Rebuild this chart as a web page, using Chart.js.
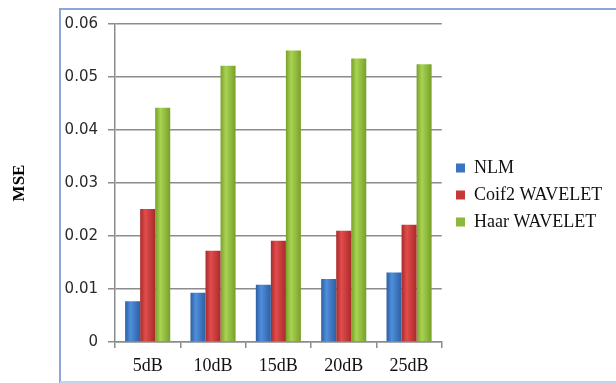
<!DOCTYPE html>
<html>
<head>
<meta charset="utf-8">
<script src="https://cdn.jsdelivr.net/npm/chart.js@4"></script>
<style>
  html, body { margin: 0; padding: 0; background: #fff; }
  #wrap { width: 616px; height: 383px; }
</style>
</head>
<body>
<div id="wrap"><canvas id="chart"></canvas></div>
<script>
const categories = ['5dB', '10dB', '15dB', '20dB', '25dB'];
const nlm = [0.0077, 0.0093, 0.0108, 0.0119, 0.0131];
const coif2 = [0.0251, 0.0172, 0.0191, 0.0210, 0.0221];
const haar = [0.0442, 0.0521, 0.0550, 0.0535, 0.0524];
const yTickLabels = ['0', '0.01', '0.02', '0.03', '0.04', '0.05', '0.06'];

// dark edge / light middle / flat colour for the shaded bars
const shades = [
  ['#2d5fa3', '#4f8fdb', '#3a73bf'],
  ['#a92a2a', '#e24c4c', '#c53838'],
  ['#78a02a', '#a9d352', '#8cb83c']
];

const framePlugin = {
  id: 'frame',
  beforeDraw(chart) {
    const c = chart.ctx;
    c.save();
    c.strokeStyle = '#8aa7d8';
    c.lineWidth = 2;
    c.beginPath();
    c.moveTo(60, 383);
    c.lineTo(60, 9);
    c.lineTo(616, 9);
    c.stroke();
    c.strokeStyle = '#c3d3ec';
    c.beginPath();
    c.moveTo(60, 382);
    c.lineTo(616, 382);
    c.stroke();
    c.restore();
  }
};

const shadePlugin = {
  id: 'shade',
  beforeDatasetsDraw(chart) {
    const c = chart.ctx;
    chart.data.datasets.forEach((ds, i) => {
      chart.getDatasetMeta(i).data.forEach(bar => {
        const g = c.createLinearGradient(bar.x - bar.width / 2, 0, bar.x + bar.width / 2, 0);
        g.addColorStop(0, shades[i][0]);
        g.addColorStop(0.35, shades[i][1]);
        g.addColorStop(1, shades[i][0]);
        // options are shared between bars, give each its own copy
        bar.options = Object.assign({}, bar.options, { backgroundColor: g });
      });
    });
  }
};

const legendShift = {
  id: 'legendShift',
  afterLayout(chart) {
    const l = chart.legend;
    const dy = 195 - (l.top + l.bottom) / 2;
    l.left = 447;
    l.right = 620;
    l.width = l.right - l.left;
    l.top += dy; l.bottom += dy;
  }
};

new Chart(document.getElementById('chart'), {
  type: 'bar',
  data: {
    labels: categories,
    datasets: [
      { label: 'NLM', data: nlm, backgroundColor: shades[0][2] },
      { label: 'Coif2 WAVELET', data: coif2, backgroundColor: shades[1][2] },
      { label: 'Haar WAVELET', data: haar, backgroundColor: shades[2][2] }
    ]
  },
  options: {
    responsive: true,
    maintainAspectRatio: false,
    animation: false,
    layout: { padding: { top: 24, right: 27, bottom: 0, left: 0 } },
    datasets: {
      bar: { categoryPercentage: 0.69, barPercentage: 1.0 }
    },
    plugins: {
      tooltip: { enabled: false },
      legend: {
        position: 'right',
        labels: {
          boxWidth: 9,
          boxHeight: 9,
          padding: 9,
          color: '#111',
          font: { family: 'Liberation Serif', size: 18 }
        }
      }
    },
    scales: {
      x: {
        afterFit(s) { s.height = 41; },
        grid: { display: true, drawOnChartArea: false, tickLength: 6, color: '#8c8c8c', lineWidth: 1.5 },
        border: { color: '#8c8c8c', width: 1.5 },
        ticks: { color: '#111', padding: 7, font: { family: 'Liberation Serif', size: 18 } }
      },
      y: {
        min: 0,
        max: 0.06,
        afterFit(s) { s.width = 115; },
        grid: { color: '#8c8c8c', lineWidth: 1.5, tickLength: 7 },
        border: { color: '#8c8c8c', width: 1.5 },
        ticks: {
          stepSize: 0.01,
          padding: 10,
          color: '#2a2a2a',
          font: { family: 'DejaVu Sans', size: 15 },
          callback: (v, i) => yTickLabels[i]
        },
        title: {
          display: true,
          text: 'MSE',
          color: '#000',
          padding: { top: 9, bottom: 0 },
          font: { family: 'Liberation Serif', size: 17, weight: 'bold' }
        }
      }
    }
  },
  plugins: [framePlugin, shadePlugin, legendShift]
});
</script>
</body>
</html>
